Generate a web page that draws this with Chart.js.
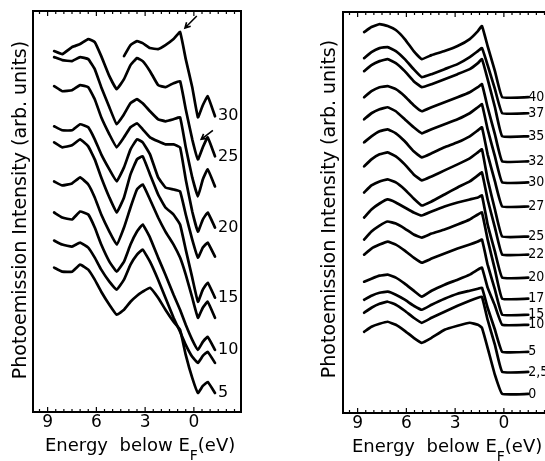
<!DOCTYPE html>
<html>
<head>
<meta charset="utf-8">
<script src="https://cdn.jsdelivr.net/npm/chart.js@4.4.1/dist/chart.umd.min.js"></script>
<style>
  html, body { margin: 0; padding: 0; background: #fff; width: 545px; height: 461px; overflow: hidden; }
  canvas { position: absolute; top: 0; }
  #left { left: 0; }
  #right { left: 272px; }
</style>
</head>
<body>
<canvas id="left" width="272" height="461"></canvas>
<canvas id="right" width="290" height="461"></canvas>
<script>
// ── Data ──────────────────────────────────────────
// energy below E_F (eV), shared grid for each panel
const energyL = [8.6, 8.1, 7.5, 7.0, 6.5, 6.1, 5.7, 5.2, 4.75, 4.3, 3.9, 3.5, 3.15, 2.7, 2.2, 1.75, 1.25, 0.85, 0.5, 0.1, -0.25, -0.55, -0.85, -1.3];
const energyR = [8.6, 8.15, 7.65, 7.15, 6.65, 6.1, 5.55, 5.05, 4.45, 3.65, 2.85, 2.1, 1.6, 1.35, 1.0, 0.55, 0.1, -1.5];
const tickE = [9, 6, 3, 0];

// left panel spectra (arb. units), top to bottom
const L30   = [null, null, null, null, null, null, null, null, null, 88.75, 91.5, 92.5, 92, 90.75, 90.5, 91.5, 93, 94.75, 88, 81, 73.5, 76.5, 78.75, 73.75];
const L25   = [90, 89.25, 91, 91.75, 93, 92.25, 88.75, 83.75, 80.5, 83, 86.5, 88.25, 87.5, 85, 81.5, 81, 82, 82.5, 75.5, 68, 63, 66, 68.5, 63.75];
const L22_5 = [88.5, 87.75, 87.5, 88.5, 88, 85.5, 81, 76, 71.75, 74.25, 77, 78, 77, 75, 73, 72.5, 73, 73.5, 66, 58.5, 53.75, 58, 60.5, 56.25];
const L20   = [81.25, 80, 80.25, 81.5, 81, 78, 73.5, 69.25, 66, 68.5, 71, 72, 70.5, 68.5, 67.5, 66.75, 66.75, 66, 58, 50, 45, 48, 49.75, 46];
const L17_5 = [71.25, 70.25, 70.25, 71.75, 71, 68, 64.25, 60.5, 57.5, 61, 65.5, 68, 67.25, 64.25, 58.5, 56, 55.5, 55, 49.25, 43, 38.5, 41, 42.25, 38.75];
const L15   = [67.25, 66, 66.5, 68, 66.25, 63, 58.5, 53.5, 49.75, 53.5, 59.25, 63, 63.75, 59.25, 54.25, 51, 49.25, 46.75, 40.5, 33.5, 27.5, 30.5, 32.25, 28.5];
const L12_5 = [57.5, 56.5, 57, 58.5, 56.75, 53.5, 49.25, 45, 41.75, 46, 51, 55.5, 56.75, 53, 48.5, 45, 41.75, 38.5, 34.25, 28.5, 23.5, 26, 27.5, 23.5];
const L10   = [49.75, 48.5, 48, 50, 49.25, 46, 41.75, 37.5, 35, 37.5, 41.75, 45, 46.75, 43.5, 38.5, 34.25, 29.25, 25.5, 21.75, 18, 15.5, 17.5, 18.75, 15.5];
const L7_5  = [42.75, 41.75, 41.25, 42.25, 41, 38.5, 35.5, 32.5, 30.5, 33, 36.75, 39.25, 40.5, 37.5, 33, 28.5, 23.5, 20, 16.75, 13.75, 12.25, 14, 15, 12.25];
const L5    = [36, 35, 35, 36.75, 35.5, 33, 30, 26.75, 24.25, 25.5, 27.5, 29, 30, 31, 28.5, 25.5, 22.5, 20.5, 14.25, 8.5, 4.75, 6.5, 7.5, 4.75];
const labelsL = ['30', '25', '', '20', '', '15', '', '10', '', '5'];

// arrows in left panel: [tipE, tipI, tailE, tailI]
const arrowsL = [[0.55, 95.75, -0.18, 98.75], [-0.45, 68, -1.17, 70.25]];

// right panel spectra (arb. units), top to bottom
const R40   = [95, 96.25, 97, 96.5, 95.5, 93.25, 90.25, 88.25, 89.25, 90.25, 91.5, 93.25, 95.25, 96.5, 91.5, 85.25, 78.75, 78.75];
const R37_5 = [88.5, 90, 91, 91.25, 90.25, 88.25, 85.75, 83.75, 84.5, 85.75, 87, 88.75, 90.25, 91, 86.75, 80.75, 74.75, 74.75];
const R35   = [85.25, 86.75, 87.75, 88.25, 87.25, 85.25, 82.75, 81.25, 82, 83.25, 84.5, 85.75, 87.25, 88.25, 83.25, 76.25, 69, 69];
const R32_5 = [78.75, 80.25, 81.25, 81.5, 80.75, 79, 76.75, 75.25, 76.25, 77.5, 78.75, 80, 81.25, 82, 76.25, 69.5, 62.75, 62.75];
const R30   = [73.25, 74.75, 75.75, 76.25, 75.25, 73.25, 71.25, 69.75, 70.75, 72, 73.25, 74.75, 76.25, 77, 70.75, 64, 57.5, 57.5];
const R27_5 = [67.5, 69, 70.25, 70.75, 69.75, 67.75, 65.25, 63.75, 64.75, 66.25, 67.5, 69, 70.5, 71.25, 64.5, 57.75, 51.5, 51.5];
const R25   = [61.5, 63.25, 64.5, 65, 64, 62, 59.5, 58, 59, 60.5, 62, 63.5, 65, 65.75, 58.25, 50.75, 44, 44];
const R22_5 = [55, 56.75, 57.75, 58.25, 57.5, 55.75, 53.5, 51.75, 52.75, 54.5, 56.25, 57.75, 59.25, 60, 53.25, 46.25, 39.5, 39.5];
const R20   = [48.75, 50.75, 52.25, 53.25, 52.5, 51.25, 50, 49.25, 50.25, 51.5, 52.5, 53.25, 53.75, 54.25, 47, 40.25, 33.75, 33.75];
const R17_5 = [43.25, 45.25, 46.75, 47.75, 47.25, 46, 44.5, 43.75, 44.75, 45.75, 47, 48.25, 49.5, 50, 43.25, 35.75, 28.5, 28.5];
const R15   = [39.5, 41, 42, 42.75, 42, 40.5, 38.75, 37.5, 38.5, 39.75, 41, 42, 42.75, 43.25, 37, 30.75, 24.5, 24.5];
const R10   = [32.75, 33.5, 34.25, 34.5, 33.75, 32.25, 30.5, 29, 30.5, 32, 33.25, 34.5, 35.75, 36.25, 31.25, 26.75, 22, 22];
const R5    = [28.25, 29.25, 30, 30.25, 29.5, 28.25, 26.75, 25.75, 27, 28.5, 29.75, 30.5, 31, 31.25, 26.25, 20.75, 15.25, 15.25];
const R2_5  = [25, 26.25, 27.25, 27.75, 27, 25.5, 23.75, 22.5, 23.75, 25.25, 26.75, 28, 28.75, 29, 23.25, 17, 10.25, 10.25];
const R0    = [20.25, 21.5, 22.25, 22.75, 22, 20.5, 18.75, 17.5, 18.75, 20.75, 21.75, 22.5, 22, 21.25, 16.25, 9.5, 4.75, 4.75];
const labelsR = ['40', '37,5', '35', '32,5', '30', '27,5', '25', '22,5', '20', '17,5', '15', '10', '5', '2,5', '0'];

// ── Drawing ───────────────────────────────────────
const FONT = '"DejaVu Sans", sans-serif';

const panelPlugin = {
  id: 'panel',
  afterDatasetsDraw(chart, args, o) {
    const { ctx, chartArea: a, scales: { x, y } } = chart;
    ctx.save();
    ctx.strokeStyle = '#000';
    ctx.fillStyle = '#000';

    // frame
    ctx.lineWidth = 2;
    ctx.strokeRect(a.left, a.top, a.right - a.left, a.bottom - a.top);

    // small inward ticks on top and bottom edges
    ctx.lineWidth = 1.2;
    for (let e = -2.5; e <= 9.5; e += 0.5) {
      const px = x.getPixelForValue(e);
      const len = e % 3 === 0 ? 5 : 3;
      ctx.beginPath();
      ctx.moveTo(px, a.bottom); ctx.lineTo(px, a.bottom - len);
      ctx.moveTo(px, a.top); ctx.lineTo(px, a.top + len);
      ctx.stroke();
    }

    // curve labels at the end of each trace
    ctx.font = o.labelFont;
    ctx.textAlign = 'left';
    ctx.textBaseline = 'middle';
    chart.data.datasets.forEach((ds, i) => {
      if (!ds.label) return;
      const meta = chart.getDatasetMeta(i);
      let j = ds.data.length - 1;
      while (j > 0 && ds.data[j].y == null) j--;
      const p = meta.data[j];
      ctx.fillText(ds.label, p.x + o.labelDx, p.y + o.labelDy);
    });

    // arrows
    ctx.lineWidth = 1.6;
    (o.arrows || []).forEach(([e1, i1, e2, i2]) => {
      const tx = x.getPixelForValue(e1), ty = y.getPixelForValue(i1);
      const sx = x.getPixelForValue(e2), sy = y.getPixelForValue(i2);
      const ang = Math.atan2(ty - sy, tx - sx);
      ctx.beginPath();
      ctx.moveTo(sx, sy); ctx.lineTo(tx, ty);
      ctx.moveTo(tx - 6 * Math.cos(ang - 0.5), ty - 6 * Math.sin(ang - 0.5));
      ctx.lineTo(tx, ty);
      ctx.lineTo(tx - 6 * Math.cos(ang + 0.5), ty - 6 * Math.sin(ang + 0.5));
      ctx.stroke();
    });

    // y title
    ctx.save();
    ctx.translate(o.yTitle.x, o.yTitle.y);
    ctx.rotate(-Math.PI / 2);
    ctx.font = '19px ' + FONT;
    ctx.textAlign = 'center';
    ctx.textBaseline = 'middle';
    ctx.fillText('Photoemission Intensity (arb. units)', 0, 0);
    ctx.restore();

    // x title with subscript F
    ctx.textAlign = 'left';
    ctx.textBaseline = 'alphabetic';
    let tx = o.xTitle.x;
    const ty = o.xTitle.y;
    ctx.font = '18px ' + FONT;
    ctx.fillText('Energy  below E', tx, ty);
    tx += ctx.measureText('Energy  below E').width;
    ctx.font = '14px ' + FONT;
    ctx.fillText('F', tx, ty + 9);
    tx += ctx.measureText('F').width;
    ctx.font = '18px ' + FONT;
    ctx.fillText('(eV)', tx, ty);

    ctx.restore();
  }
};

const makePanel = (id, energy, curves, labels, cfg) => {
  const ctx = document.getElementById(id);
  return new Chart(ctx, {
    type: 'line',
    data: {
      datasets: curves.map((c, i) => ({
        label: labels[i],
        data: energy.map((e, j) => ({ x: e, y: c[j] })),
        borderColor: '#000',
        borderWidth: 2.7,
        borderJoinStyle: 'round',
        borderCapStyle: 'round',
        pointRadius: 0,
        tension: 0.1,
        fill: false,
      }))
    },
    options: {
      responsive: false,
      animation: false,
      events: [],
      layout: { padding: cfg.padding },
      plugins: { legend: { display: false }, tooltip: { enabled: false }, panel: cfg },
      scales: {
        x: {
          type: 'linear', reverse: true, min: -2.9, max: 9.9,
          grid: { display: false }, border: { display: false },
          afterBuildTicks: s => { s.ticks = tickE.map(v => ({ value: v })); },
          afterFit: s => { s.height = cfg.xHeight; },
          ticks: { color: '#000', font: { family: FONT, size: 17 }, padding: -8, maxRotation: 0, autoSkip: false, callback: v => String(v) }
        },
        y: {
          min: 0, max: 100,
          grid: { display: false }, border: { display: false }, ticks: { display: false },
          afterFit: s => { s.width = cfg.yWidth; }
        }
      }
    },
    plugins: [panelPlugin]
  });
};

makePanel('left', energyL,
  [L30, L25, L22_5, L20, L17_5, L15, L12_5, L10, L7_5, L5], labelsL, {
    padding: { left: 0, right: 31, top: 11, bottom: 0 },
    yWidth: 33, xHeight: 49,
    labelFont: '16px ' + FONT, labelDx: 3, labelDy: 0,
    arrows: arrowsL,
    yTitle: { x: 21, y: 210 },
    xTitle: { x: 45, y: 451 }
  });

makePanel('right', energyR,
  [R40, R37_5, R35, R32_5, R30, R27_5, R25, R22_5, R20, R17_5, R15, R10, R5, R2_5, R0], labelsR, {
    padding: { left: 0, right: 11, top: 12, bottom: 0 },
    yWidth: 71, xHeight: 48,
    labelFont: '14px "DejaVu Sans Condensed", "Liberation Sans Narrow", ' + FONT, labelDx: 0, labelDy: 0,
    arrows: [],
    yTitle: { x: 58, y: 209 },
    xTitle: { x: 80, y: 452 }
  });
</script>
</body>
</html>
